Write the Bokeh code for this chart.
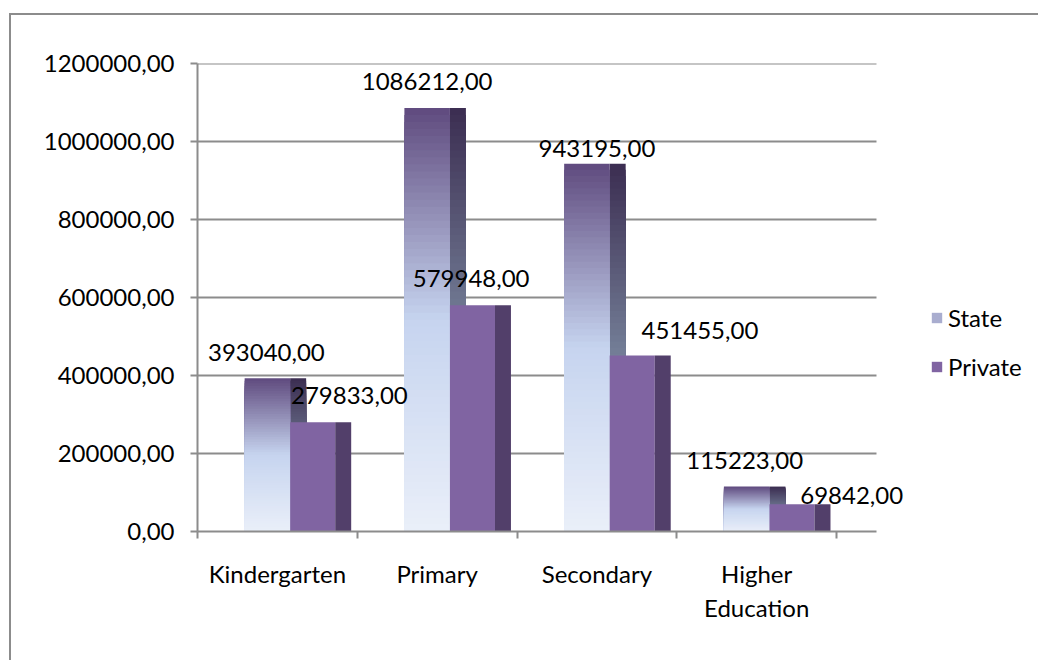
from bokeh.plotting import figure
from bokeh.models import (ColumnDataSource, FixedTicker, CustomJSTickFormatter, Legend,
                          LegendItem, LabelSet, Range1d, InlineStyleSheet)
from bokeh.core.properties import value
from bokeh.embed import file_html
from bokeh.resources import INLINE

# ---- data -------------------------------------------------------------
categories = ["Kindergarten", "Primary", "Secondary", "Higher\nEducation"]
state = [393040.00, 1086212.00, 943195.00, 115223.00]
private = [279833.00, 579948.00, 451455.00, 69842.00]
y_ticks = [0, 200000, 400000, 600000, 800000, 1000000, 1200000]

# ---- styling ----------------------------------------------------------
FONT = "Lato"
FONT_SIZE = "24px"
GRID = "#8c8c8c"
PRIVATE_FRONT = "#8064a2"
PRIVATE_SIDE = "#523f6a"
STATE_FRONT_STOPS = [(0.0, "#5f4a7e"), (0.5, "#c6d4ef"), (1.0, "#eaeff9")]
STATE_SIDE_STOPS = [(0.0, "#3b2d51"), (0.5, "#727c95"), (1.0, "#a3aec4")]
SLICES = 60

# plot area spans the category slots plus the 3-D back-wall overhang
X_END = 4.25          # end of axis line / gridlines, in category units
X_VIEW = 5.264        # visible x extent (leaves room for the legend)

# bar geometry inside a category slot (category units, relative to slot centre)
STATE_LEFT = -0.205
SPLIT = 0.080
PRIVATE_RIGHT = 0.362
DEPTH = 0.100

# data label nudges in pixels (x, y) : state labels then private labels
state_nudge_x = [-11, -10, 0, -12]
state_nudge_y = [26, 26, 15, 26]
private_nudge_x = [72, 34, 103, 95]
private_nudge_y = [27, 27, 25, 9]


def hex_rgb(h):
    h = h.lstrip("#")
    return tuple(int(h[i:i + 2], 16) for i in (0, 2, 4))


def stop_color(stops, t):
    for (p0, c0), (p1, c1) in zip(stops[:-1], stops[1:]):
        if t <= p1:
            f = (t - p0) / (p1 - p0)
            a, b = hex_rgb(c0), hex_rgb(c1)
            return "#%02x%02x%02x" % tuple(round(a[i] + (b[i] - a[i]) * f) for i in range(3))
    return stops[-1][1]


def gradient_source(vals, x0, x1, stops):
    # each band runs from its own top down to zero; later (lower) bands paint over
    # the earlier ones, so the stack shows a seamless vertical gradient
    d = dict(left=[], right=[], top=[], color=[])
    for i, v in enumerate(vals):
        c = i + 0.5
        for k in range(SLICES):
            d["left"].append(c + x0)
            d["right"].append(c + x1)
            d["top"].append(v * (1 - k / SLICES))
            d["color"].append(stop_color(stops, (k + 0.5) / SLICES))
    return ColumnDataSource(d)


def fmt(v):
    return f"{v:.2f}".replace(".", ",")


centers = [i + 0.5 for i in range(len(categories))]

p = figure(width=1038, height=660, output_backend="svg", toolbar_location=None,
           x_range=Range1d(0, X_VIEW), y_range=Range1d(0, 1200000),
           min_border_left=197, min_border_right=0, min_border_top=63, min_border_bottom=129)
p.outline_line_color = None
p.background_fill_color = "white"
p.border_fill_color = "white"

# thin chart-area border running off the right and bottom edges
p.stylesheets = [InlineStyleSheet(css="""
:host { position: relative; overflow: hidden; }
:host::after { content: ""; position: absolute; left: 9px; top: 13px;
               width: 3000px; height: 3000px; pointer-events: none;
               border-left: 2px solid #8c8c8c; border-top: 2px solid #8c8c8c; }
""")]

# ---- axes ---------------------------------------------------------------
p.yaxis.ticker = FixedTicker(ticks=y_ticks)
p.yaxis.formatter = CustomJSTickFormatter(code="return tick.toFixed(2).replace('.', ',');")
p.yaxis.major_tick_out = 7
p.yaxis.major_tick_in = 0
p.yaxis.major_label_standoff = 16

p.xaxis.ticker = FixedTicker(ticks=centers, minor_ticks=list(range(len(categories) + 1)))
p.xaxis.formatter = CustomJSTickFormatter(args=dict(names=categories),
                                          code="return names[Math.floor(tick)];")
p.xaxis.bounds = (0, X_END)
p.xaxis.major_tick_out = 0
p.xaxis.major_tick_in = 0
p.xaxis.minor_tick_out = 7
p.xaxis.minor_tick_in = 0
p.xaxis.major_label_standoff = 20

for ax in (p.xaxis, p.yaxis):
    ax.axis_line_color = GRID
    ax.axis_line_width = 2
    ax.major_tick_line_color = GRID
    ax.major_tick_line_width = 2
    ax.minor_tick_line_color = GRID
    ax.minor_tick_line_width = 2
    ax.major_label_text_font = FONT
    ax.major_label_text_font_size = FONT_SIZE
    ax.major_label_text_color = "black"
p.yaxis.minor_tick_line_color = None

# horizontal gridlines stop at the back wall, not at the legend
p.grid.grid_line_color = None
p.segment(x0=0, x1=X_END, y0=y_ticks[1:], y1=y_ticks[1:], line_color=GRID, line_width=2)

# ---- bars ---------------------------------------------------------------
state_side = gradient_source(state, SPLIT, SPLIT + DEPTH, STATE_SIDE_STOPS)
state_front = gradient_source(state, STATE_LEFT, SPLIT, STATE_FRONT_STOPS)
p.quad(left="left", right="right", top="top", bottom=0, source=state_side,
       fill_color="color", line_color=None)
r_state = p.quad(left="left", right="right", top="top", bottom=0, source=state_front,
                 fill_color="color", line_color=None)

priv_src = ColumnDataSource(dict(
    top=private,
    front_l=[c + SPLIT for c in centers], front_r=[c + PRIVATE_RIGHT for c in centers],
    side_r=[c + PRIVATE_RIGHT + DEPTH for c in centers]))
r_priv = p.quad(left="front_l", right="front_r", top="top", bottom=0, source=priv_src,
                fill_color=PRIVATE_FRONT, line_color=None)
p.quad(left="front_r", right="side_r", top="top", bottom=0, source=priv_src,
       fill_color=PRIVATE_SIDE, line_color=None)

# ---- data labels --------------------------------------------------------
lab_src = ColumnDataSource(dict(
    x=centers + centers, y=state + private,
    text=[fmt(v) for v in state + private],
    dx=state_nudge_x + private_nudge_x, dy=state_nudge_y + private_nudge_y))
p.add_layout(LabelSet(x="x", y="y", text="text", x_offset="dx", y_offset="dy", source=lab_src,
                      text_align="center", text_baseline="middle", text_font=value(FONT),
                      text_font_size=value(FONT_SIZE), text_color="black"))

# ---- legend -------------------------------------------------------------
legend = Legend(items=[LegendItem(label="State", renderers=[r_state], index=21),
                       LegendItem(label="Private", renderers=[r_priv])],
                location=(733, 150), orientation="vertical",
                glyph_width=13, glyph_height=13, label_standoff=5, spacing=20,
                padding=0, margin=0, border_line_color=None, background_fill_alpha=0,
                label_text_font=FONT, label_text_font_size=FONT_SIZE, label_text_color="black")
p.add_layout(legend, "center")

open("out.html", "w").write(file_html(p, INLINE))
